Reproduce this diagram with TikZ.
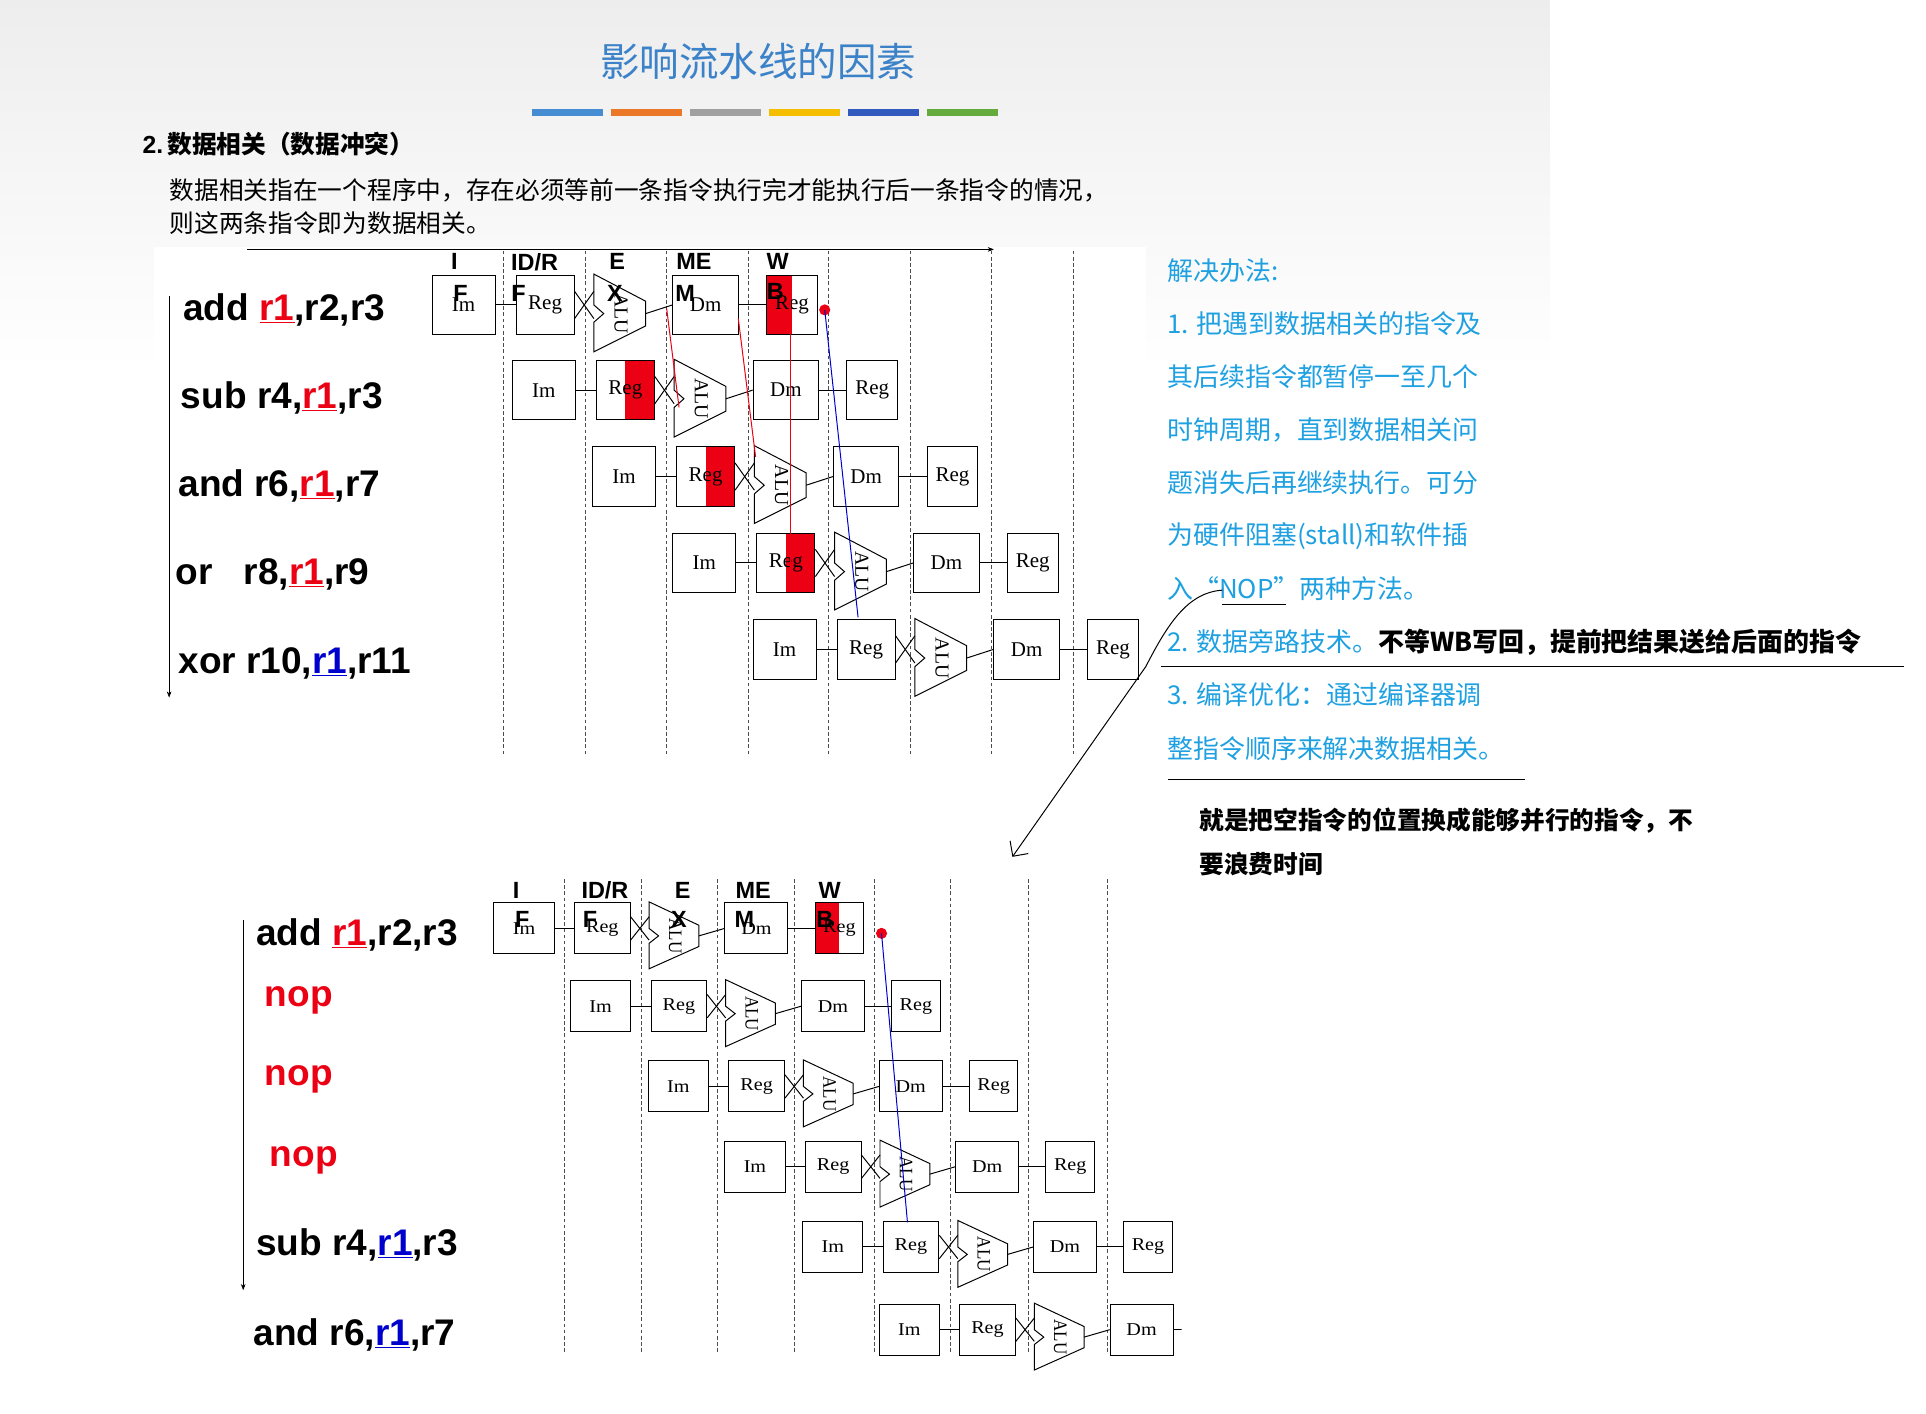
\documentclass[tikz,border=0pt]{standalone}
\usepackage{fontspec}
\setmainfont{Liberation Serif}
\newfontfamily\cjk{Noto Sans CJK SC}
\newfontfamily\arialb[BoldFont={Liberation Sans Bold}]{Liberation Sans}
\usetikzlibrary{arrows.meta}
\definecolor{titleblue}{RGB}{60,130,200}
\definecolor{notecyan}{RGB}{30,160,225}
\definecolor{hazard}{RGB}{235,0,20}
\definecolor{bar0}{RGB}{70,140,210}
\definecolor{bar1}{RGB}{235,120,40}
\definecolor{bar2}{RGB}{160,160,160}
\definecolor{bar3}{RGB}{245,190,0}
\definecolor{bar4}{RGB}{50,90,190}
\definecolor{bar5}{RGB}{100,170,60}
\tikzset{
  stagebox/.style={draw, thick, minimum width=51, minimum height=48, inner sep=0pt, font=\fontsize{17}{17}\selectfont},
  alu/.style={draw, thick, fill=white},
  gridline/.style={densely dashed, gray!60!black},
  instr/.style={anchor=west, font=\arialb\bfseries\fontsize{30}{30}\selectfont},
  stagelabel/.style={font=\arialb\bfseries\fontsize{19}{19}\selectfont},
  note/.style={anchor=west, text=notecyan, font=\cjk\fontsize{21}{21}\selectfont},
}
% one instruction: Im, Reg, ALU, Dm, Reg
\newcommand\piperow[6]{%
\begin{scope}[shift={(#2,#3)},xscale=#4,yscale=#5,transform shape]
#6
\node[stagebox] (#1im) at (25.5,0) {Im};
\node[stagebox,minimum width=47,fill=none] (#1reg) at (91.5,0) {Reg};
\draw[alu] (131,-25) -- (173,-3) -- (173,17) -- (131,38) -- (131,14) -- (139,7) -- (131,0) -- cycle;
\node[rotate=-90,font=\fontsize{16}{16}\selectfont] (#1alu) at (153,7) {ALU};
\coordinate (#1out) at (173,7);
\node[stagebox,minimum width=53] (#1dm) at (221.5,0) {Dm};
\node[stagebox,minimum width=41] (#1wb) at (291.5,0) {Reg};
\draw[thick] (#1im) -- (#1reg);
\draw[thick] ([yshift=-11pt]#1reg.east) -- (131,-11);
\draw[thick] ([yshift=11pt]#1reg.east) -- (131,11) ;
\draw[thick] (#1out) -- (#1dm.west);
\draw[thick] (#1dm) -- (#1wb);
\end{scope}}
\newcommand\rone[1]{{\color{#1}\underline{r1}}}
\begin{document}
\begin{tikzpicture}[x=1pt,y=-1pt]
\useasboundingbox (0,0) rectangle (1560,1145);
\fill[white] (0,0) rectangle (1560,1145);
\shade[top color=gray!14, bottom color=white] (0,0) rectangle (1255,300);
\fill[white] (125,200) rectangle (928,612);
\fill[white] (183,712) rectangle (965,1100);

% header
\node[text=titleblue, font=\cjk\fontsize{32}{32}\selectfont] (title) at (614,50) {影响流水线的因素};
\foreach \i in {0,...,5}
  \fill[bar\i] (431+\i*64,88) rectangle ++(57,6);
\node[anchor=west, font=\cjk\bfseries\fontsize{20}{20}\selectfont] (sec) at (112,117) {\arialb\bfseries 2.\,\cjk 数据相关（数据冲突）};
\node[anchor=west, font=\cjk\fontsize{20}{20}\selectfont] (par1) at (134,154) {数据相关指在一个程序中，存在必须等前一条指令执行完才能执行后一条指令的情况，};
\node[anchor=west, font=\cjk\fontsize{20}{20}\selectfont] (par2) at (134,181) {则这两条指令即为数据相关。};

% upper pipeline
\foreach \x in {408,474,540,606,671,737,803,869}
  \draw[gridline] (\x,203) -- (\x,612);
\draw[-{Stealth[length=5pt]}] (200,202) -- (805,202);
\node[stagelabel] (ua) at (368,212) {I};
\node[stagelabel] (ub) at (433,212) {ID/R};
\node[stagelabel] (uc) at (500,212) {E};
\node[stagelabel] (ud) at (562,212) {ME};
\node[stagelabel] (ue) at (630,212) {W};
\piperow{a}{350}{247}{1}{1}{\fill[hazard] (271,-24) rectangle (291.5,24);}
\piperow{b}{415}{316}{1}{1}{\fill[hazard] (91.5,-24) rectangle (115,24);}
\piperow{c}{480}{386}{1}{1}{\fill[hazard] (91.5,-24) rectangle (115,24);}
\piperow{d}{545}{456}{1}{1}{\fill[hazard] (91.5,-24) rectangle (115,24);}
\piperow{e}{610}{526}{1}{1}{}
\foreach \t/\x/\y in {F/373/238,F/420/238,X/498/238,M/555/238,B/628/236}
  \node[stagelabel] at (\x,\y) {\t};
\fill[hazard] (668,251) circle (4.5);
\coordinate (ra) at (540,250); \coordinate (rb) at (550,330);
\coordinate (rc) at (598,258); \coordinate (rd) at (612,370);
\coordinate (re) at (640,240); \coordinate (rf) at (640,460);
\coordinate (bs) at (668,251); \coordinate (bt) at (695,500);
\draw[hazard, thick] (ra) -- (rb);
\draw[hazard, thick] (rc) -- (rd);
\draw[hazard, thick] (re) -- (rf);
\draw[blue!80!black, thick] (bs) -- (bt);
\draw[-{Stealth[length=5pt]}] (137,240) -- (137,565);
\node[instr] (i1) at (145,251) {add \rone{hazard},r2,r3};
\node[instr] (i2) at (143,322) {sub r4,\rone{hazard},r3};
\node[instr] (i3) at (141,394) {and r6,\rone{hazard},r7};
\node[instr] (i4) at (139,465) {or\ \ \ r8,\rone{hazard},r9};
\node[instr] (i5) at (141,537) {xor r10,\rone{blue!80!black},r11};

% notes
\node[note] (n0) at (942,219) {解决办法:};
\foreach \t [count=\i] in {1. 把遇到数据相关的指令及,其后续指令都暂停一至几个,时钟周期，直到数据相关问,题消失后再继续执行。可分,为硬件阻塞(stall)和软件插,入“NOP”两种方法。}
  \node[note] (n\i) at (942,219+43*\i) {\t};
\node[note] (n7) at (942,520) {2. 数据旁路技术。\textcolor{black}{\bfseries 不等WB写回，提前把结果送给后面的指令}};
\node[note] (n8) at (942,563) {3. 编译优化：通过编译器调};
\node[note] (n9) at (942,606) {整指令顺序来解决数据相关。};
\draw[thick] (990,490) -- (1042,490);
\draw[thick] (940,540) -- (1542,540);
\draw[thick] (946,631) -- (1235,631);
\coordinate (hs) at (990,478); \coordinate (he) at (820,694);
\draw[thick, -{Straight Barb[length=9pt]}] (hs) .. controls (962,480) and (946,505) .. (928,540) -- (he);
\node[anchor=west, font=\cjk\bfseries\fontsize{20}{20}\selectfont] (m1) at (968,665) {就是把空指令的位置换成能够并行的指令，不};
\node[anchor=west, font=\cjk\bfseries\fontsize{20}{20}\selectfont] (m2) at (968,700) {要浪费时间};

% lower pipeline
\foreach \x in {457,519,581,643,708,770,833,897}
  \draw[gridline] (\x,712) -- (\x,1095);
\node[stagelabel] (la) at (418,721) {I};
\node[stagelabel] (lb) at (490,721) {ID/R};
\node[stagelabel] (lc) at (553,721) {E};
\node[stagelabel] (ld) at (610,721) {ME};
\node[stagelabel] (le) at (672,721) {W};
\begin{scope}
\clip (183,700) rectangle (957,1130);
\piperow{p}{400}{752}{0.96}{0.86}{\fill[hazard] (271,-24) rectangle (291.5,24);}
\piperow{q}{462}{815}{0.96}{0.86}{}
\piperow{s}{525}{880}{0.96}{0.86}{}
\piperow{t}{587}{945}{0.96}{0.86}{}
\piperow{u}{650}{1010}{0.96}{0.86}{}
\piperow{v}{712}{1077}{0.96}{0.86}{}
\end{scope}
\foreach \t/\x/\y in {F/423/745,F/478/745,X/550/745,M/603/745,B/668/745}
  \node[stagelabel] at (\x,\y) {\t};
\fill[hazard] (714,756) circle (4.5);
\coordinate (ba) at (714,756); \coordinate (bb) at (735,990);
\draw[blue!80!black, thick] (ba) -- (bb);
\draw[-{Stealth[length=5pt]}] (197,745) -- (197,1045);
\node[instr] (j1) at (204,757) {add \rone{hazard},r2,r3};
\node[instr, text=hazard] (j2) at (211,810) {nop};
\node[instr, text=hazard] (j3) at (211,874) {nop};
\node[instr, text=hazard] (j4) at (215,940) {nop};
\node[instr] (j5) at (204,1008) {sub r4,\rone{blue!80!black},r3};
\node[instr] (j6) at (202,1081) {and r6,\rone{blue!80!black},r7};
\end{tikzpicture}
\end{document}
